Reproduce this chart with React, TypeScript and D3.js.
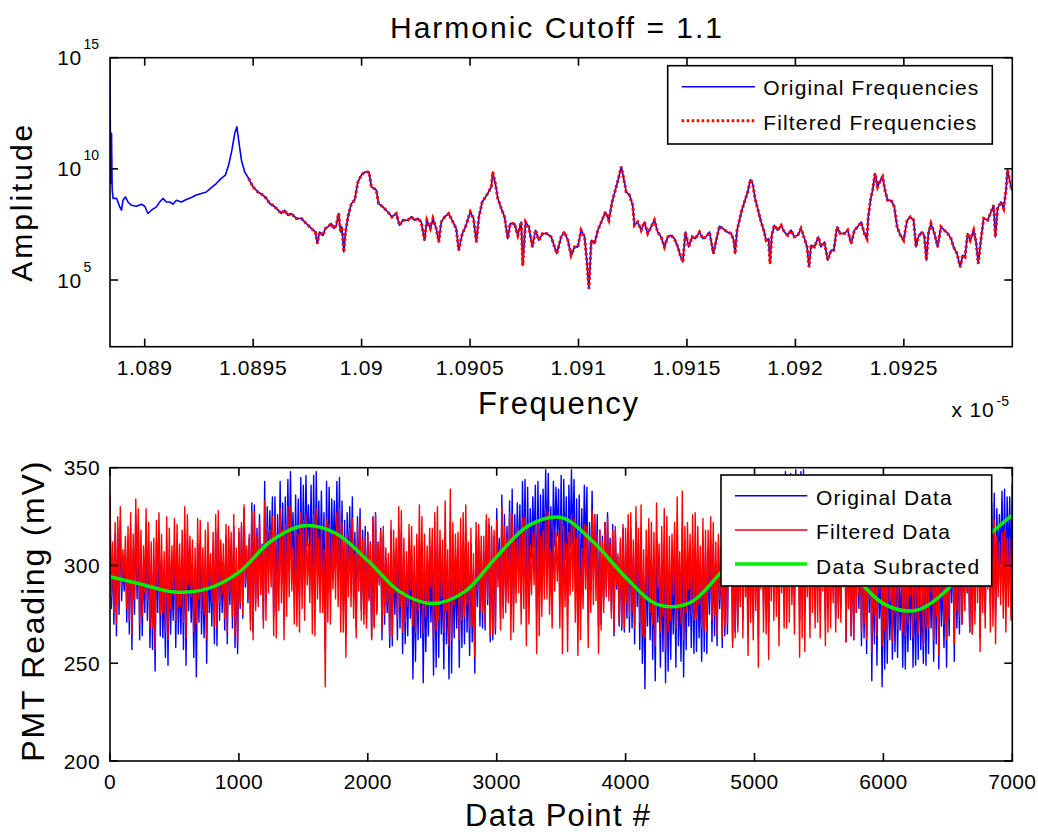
import React from "react";
import * as d3 from "d3";

// ---------------- data: top panel (spectrum) ----------------
const TITLE = "Harmonic Cutoff = 1.1";
const FREQ_TICKS = [1.089, 1.0895, 1.09, 1.0905, 1.091, 1.0915, 1.092, 1.0925];
const FREQ_TICK_LABELS = ["1.089", "1.0895", "1.09", "1.0905", "1.091", "1.0915", "1.092", "1.0925"];
const AMP_TICK_EXPONENTS = [5, 10, 15];
const FILTER_START_FREQ = 1.089479; // filtered spectrum shown from here on (x 1e-5)
// [frequency (x 1e-5), log10(amplitude)]
const ORIGINAL_SPECTRUM: [number, number][] = [
  [1.088839,15.0],[1.088841,12.42],[1.088844,9.34],[1.088847,11.6],[1.08885,9.1],[1.088854,8.67],[1.08887,8.68],[1.088885,8.29],[1.088893,8.14],[1.0889,8.59],
  [1.088911,8.74],[1.088923,8.51],[1.088939,8.36],[1.088962,8.32],[1.088985,8.41],[1.089,8.32],[1.089015,7.99],[1.089031,8.14],[1.089054,8.29],[1.089069,8.51],
  [1.089084,8.67],[1.0891,8.51],[1.089115,8.51],[1.08913,8.41],[1.089146,8.59],[1.089169,8.51],[1.089192,8.62],[1.089215,8.71],[1.089238,8.82],[1.089261,8.89],
  [1.089284,8.96],[1.089307,9.16],[1.08933,9.34],[1.089353,9.57],[1.089372,9.72],[1.089387,10.17],[1.089402,10.84],[1.089415,11.59],[1.089425,11.89],[1.089433,11.29],
  [1.089446,10.39],[1.089461,9.86],[1.089479,9.57],[1.089499,9.19],[1.089522,8.96],[1.089545,8.82],[1.089561,8.67],[1.089576,8.44],[1.089591,8.36],[1.089607,8.22],
  [1.08963,7.99],[1.089645,8.14],[1.08966,7.91],[1.089676,7.99],[1.089699,7.77],[1.089722,7.77],[1.089745,7.54],[1.089768,7.32],[1.089787,7.16],[1.089796,6.64],
  [1.089806,7.16],[1.089822,7.01],[1.089833,7.32],[1.089845,7.39],[1.08986,7.54],[1.089872,7.32],[1.089883,7.46],[1.089894,7.99],[1.089903,7.16],[1.089909,7.39],
  [1.089918,6.26],[1.089925,7.09],[1.089937,7.84],[1.089953,8.44],[1.089968,8.59],[1.089983,9.41],[1.089999,9.72],[1.090014,9.86],[1.090034,9.86],[1.090045,9.19],
  [1.090057,9.12],[1.090068,9.04],[1.090078,8.44],[1.090098,8.29],[1.090121,8.06],[1.09014,7.84],[1.09016,7.99],[1.090175,7.46],[1.09019,7.69],[1.090213,7.69],
  [1.090229,7.84],[1.090244,7.69],[1.090259,7.77],[1.090275,7.61],[1.09029,6.79],[1.090301,7.69],[1.090317,7.32],[1.090329,7.77],[1.090344,7.32],[1.090356,6.71],
  [1.090367,7.61],[1.090383,7.84],[1.090402,7.99],[1.090421,7.61],[1.090436,7.32],[1.090448,6.34],[1.090464,7.09],[1.090479,7.39],[1.090501,8.06],[1.090516,7.77],
  [1.090529,6.71],[1.090541,7.84],[1.090556,8.51],[1.090577,8.82],[1.090598,9.19],[1.090605,9.86],[1.090618,9.27],[1.090628,8.67],[1.090644,8.22],[1.090659,7.84],
  [1.090674,6.86],[1.090685,7.54],[1.090705,7.54],[1.09072,7.01],[1.090736,7.61],[1.090743,5.66],[1.090756,7.61],[1.090771,7.39],[1.090787,6.49],[1.090802,7.24],
  [1.090817,6.79],[1.090835,7.09],[1.090854,7.09],[1.090874,6.94],[1.0909,6.19],[1.09092,6.94],[1.090935,7.16],[1.090951,6.79],[1.090966,6.11],[1.090982,6.49],
  [1.090997,6.49],[1.091012,7.24],[1.091028,6.94],[1.091038,5.89],[1.091048,4.61],[1.091059,6.79],[1.091074,6.64],[1.091089,7.24],[1.091105,7.61],[1.091124,8.06],
  [1.09114,7.69],[1.091155,8.51],[1.091174,9.19],[1.091186,9.64],[1.091197,10.09],[1.091207,9.64],[1.09122,8.96],[1.091235,8.82],[1.09125,8.36],[1.091258,7.46],
  [1.091273,7.61],[1.091289,7.24],[1.091304,7.61],[1.091319,7.09],[1.091335,7.39],[1.09135,7.69],[1.091365,7.16],[1.091381,6.94],[1.091396,6.49],[1.091412,6.94],
  [1.091427,7.01],[1.091442,6.86],[1.091458,6.49],[1.091469,6.11],[1.091481,5.81],[1.091493,7.16],[1.091508,6.49],[1.091524,6.94],[1.091539,6.86],[1.091558,7.16],
  [1.091573,6.86],[1.091588,6.94],[1.091604,7.16],[1.091622,6.19],[1.091635,6.79],[1.09165,7.42],[1.091665,7.32],[1.091685,7.16],[1.091704,7.09],[1.091716,6.79],
  [1.091722,6.19],[1.091731,7.24],[1.091742,7.69],[1.091753,8.14],[1.091765,8.51],[1.09178,8.96],[1.091793,9.52],[1.091803,9.34],[1.091814,8.67],[1.09183,8.06],
  [1.091842,7.61],[1.091854,7.24],[1.091865,6.79],[1.091876,6.86],[1.091883,5.74],[1.091891,7.01],[1.091903,7.46],[1.091918,7.24],[1.091934,7.46],[1.091949,7.16],
  [1.091965,7.01],[1.09198,7.24],[1.091995,6.94],[1.092011,7.01],[1.092026,7.32],[1.092042,6.86],[1.092054,6.49],[1.092063,5.59],[1.092072,6.56],[1.092088,6.49],
  [1.092106,6.94],[1.092118,6.49],[1.092134,6.71],[1.092149,5.89],[1.092165,6.34],[1.092177,6.34],[1.092192,7.39],[1.092207,7.09],[1.092226,7.09],[1.092241,7.24],
  [1.092257,6.64],[1.092272,7.24],[1.092287,7.39],[1.092303,7.61],[1.092318,7.09],[1.09233,6.86],[1.092336,7.84],[1.092346,8.59],[1.092356,9.04],[1.092367,9.79],
  [1.092379,9.19],[1.092392,9.49],[1.092402,9.64],[1.092413,9.04],[1.092425,8.59],[1.092441,8.59],[1.092456,8.29],[1.092469,7.39],[1.092484,7.01],[1.092499,6.79],
  [1.092515,7.69],[1.09253,7.84],[1.092545,7.69],[1.092556,6.49],[1.092567,6.94],[1.092582,7.16],[1.092594,7.01],[1.092604,5.89],[1.092613,7.09],[1.092625,7.54],
  [1.092641,7.09],[1.092656,6.49],[1.092671,7.39],[1.092687,7.24],[1.092702,7.09],[1.092718,6.86],[1.092729,6.49],[1.092745,6.19],[1.09276,5.59],[1.092771,6.11],
  [1.092782,6.04],[1.092794,7.09],[1.092806,6.79],[1.092822,7.24],[1.092833,6.71],[1.092843,5.74],[1.092856,6.86],[1.092868,7.77],[1.092886,7.69],[1.092902,8.06],
  [1.092914,8.36],[1.092922,6.94],[1.092932,8.22],[1.092948,8.51],[1.09296,8.22],[1.092971,9.04],[1.092978,9.94],[1.092988,9.49],[1.092997,9.04]
];

// ---------------- data: bottom panel (time series) ----------------
const SAMPLE_STEP = 10; // one stored value every 10 data points
const ORIGINAL_DATA = [
  330,278,306,270, 316,264,319,275, 323,282,301,287, 308,271,313,265, 319,257,308,275, 326,283,321,262, 308,264,300,276, 319,272,312,258, 301,257,303,246, 312,276,316,264,
  303,263,294,253, 312,249,306,265, 297,272,311,258, 307,265,297,265, 304,257,316,249, 313,277,302,271, 300,253,296,243, 311,271,311,265, 297,263,306,250, 310,276,294,269,
  308,260,317,259, 319,272,304,276, 302,267,315,260, 314,280,311,268, 320,258,303,255, 317,278,320,273, 329,289,308,281, 314,271,332,266, 331,281,319,283, 326,289,311,272,
  343,282,330,296, 328,299,335,274, 335,277,326,291, 343,295,332,276, 335,288,344,298, 348,305,327,288, 336,287,334,284, 345,296,341,292, 346,310,331,301, 341,285,346,284,
  348,302,333,295, 338,295,327,257, 343,290,340,286, 334,304,333,299, 343,295,345,282, 333,277,323,264, 327,295,330,290, 335,284,317,268, 325,292,329,277, 318,275,320,273,
  317,283,312,263, 325,269,327,276, 312,291,319,262, 315,270,304,276, 301,258,318,259, 307,275,303,262, 319,268,317,255, 303,260,296,264, 306,273,305,242, 295,251,301,262,
  313,263,307,240, 298,256,292,264, 301,271,301,244, 308,248,311,253, 299,265,294,247, 316,260,291,242, 322,245,305,263, 299,268,300,248, 310,258,313,260, 317,266,298,254,
  311,261,298,245, 314,279,313,269, 307,268,307,267, 323,280,321,261, 317,262,315,265, 329,295,314,273, 336,279,326,282, 320,287,333,275, 339,279,326,294, 332,299,331,283,
  343,297,344,278, 340,289,329,304, 335,309,341,276, 343,285,336,295, 339,304,349,304, 347,298,330,291, 343,310,340,315, 339,291,346,279, 344,303,335,280, 341,309,349,311,
  344,291,334,274, 336,282,329,298, 341,308,340,272, 322,286,338,294, 326,292,326,269, 318,270,315,282, 322,287,327,288, 314,276,321,264, 318,288,304,269, 312,267,319,266,
  311,273,318,266, 319,268,305,260, 322,279,311,257, 317,250,294,237, 304,269,310,262, 304,252,299,241, 314,271,293,248, 302,256,311,240, 305,246,295,252, 296,265,302,248,
  316,259,288,251, 319,243,301,257, 303,269,297,258, 309,255,310,256, 303,263,293,251, 313,256,307,255, 307,275,314,261, 311,264,301,259, 311,278,304,258, 315,264,318,265,
  328,293,322,261, 321,266,317,269, 325,282,331,273, 326,294,316,264, 331,281,327,272, 333,292,330,263, 337,303,337,281, 331,280,324,271, 339,301,345,291, 336,293,337,278,
  344,308,333,290, 348,290,346,293, 347,302,329,285, 349,310,340,273, 348,283,349,276, 335,301,330,280, 337,293,334,285, 333,288,342,277, 333,301,324,273, 336,280,335,282,
  323,288,323,273, 331,280,315,278, 325,296,334,261, 320,278,314,264, 315,262,319,276, 315,278,316,259, 310,263,304,255, 314,276,311,241, 300,260,311,249, 305,273,297,238,
  298,247,300,250, 301,262,289,252, 296,256,305,253, 300,267,294,248, 295,247,290,256, 297,262,305,248, 293,249,295,252, 300,257,284,250, 299,249,303,255, 302,268,295,251,
  302,260,312,247, 306,269,296,258, 300,248,305,264, 307,281,315,251, 311,268,304,265, 318,270,317,277, 322,286,308,266, 315,265,321,277, 328,288,334,263, 324,283,318,275,
  334,302,330,280, 332,283,337,274, 329,298,326,301, 338,294,339,287, 335,300,335,293,
  342
];
const FILTERED_DATA = [
  336,284,312,276, 322,270,325,281, 330,289,308,294, 315,278,320,272, 327,265,316,283, 334,291,329,270, 318,274,310,286, 329,282,322,268, 312,268,314,257, 323,287,327,275,
  316,276,307,266, 325,262,319,278, 310,285,324,272, 321,279,311,279, 318,271,330,263, 326,290,315,284, 313,266,309,270, 324,283,323,277, 309,275,318,262, 322,288,306,281,
  317,269,326,268, 328,281,313,285, 311,273,321,266, 320,286,317,274, 326,264,309,261, 319,280,322,275, 331,291,310,283, 316,267,328,262, 327,277,315,279, 322,285,307,268,
  333,272,320,286, 318,289,325,264, 325,263,312,277, 329,281,318,262, 321,274,330,284, 330,287,309,270, 318,269,316,266, 327,278,323,272, 326,290,311,281, 321,265,326,264,
  329,283,314,276, 319,276,308,238, 324,271,321,270, 318,288,317,283, 327,279,329,266, 322,266,312,253, 316,284,319,279, 324,273,306,263, 320,287,324,272, 313,270,315,268,
  316,282,311,262, 324,268,326,275, 311,290,318,267, 320,275,309,281, 306,263,323,264, 318,286,314,273, 330,279,328,266, 314,271,307,279, 321,288,320,269, 310,266,316,277,
  331,281,325,265, 316,274,310,282, 319,289,319,263, 327,267,330,272, 318,284,313,266, 333,277,308,259, 339,262,322,280, 316,285,317,262, 324,272,327,274, 331,280,312,268,
  319,269,306,253, 322,287,321,277, 315,276,315,270, 326,283,324,264, 320,265,318,268, 323,289,308,267, 330,273,320,276, 314,281,327,262, 326,266,313,281, 319,286,318,270,
  324,278,325,259, 321,270,310,285, 316,290,322,255, 322,264,315,274, 318,283,329,283, 327,275,307,268, 320,287,317,292, 316,268,323,255, 320,279,311,256, 317,285,326,287,
  324,271,314,254, 316,262,309,278, 321,288,320,258, 313,276,328,280, 326,282,316,255, 318,267,312,276, 322,284,324,282, 311,273,318,266, 320,290,306,271, 314,269,321,268,
  319,281,326,274, 327,276,313,268, 330,287,319,271, 331,264,308,263, 318,283,324,276, 322,270,317,259, 332,289,311,266, 320,274,329,257, 325,266,315,272, 316,285,322,268,
  335,278,307,270, 338,262,320,276, 322,288,316,275, 326,272,327,273, 320,280,310,268, 324,267,318,266, 318,286,325,272, 322,275,312,264, 316,283,309,263, 320,269,323,270,
  325,290,319,258, 318,263,314,266, 322,279,328,263, 316,284,306,254, 321,271,317,262, 318,277,315,248, 322,288,322,266, 316,265,309,252, 320,282,326,272, 317,274,318,259,
  326,286,311,268, 318,268,324,271, 324,280,307,265, 318,290,320,253, 321,263,329,256, 318,284,313,263, 320,276,317,268, 316,271,325,263, 319,287,310,259, 322,266,321,268,
  316,281,316,266, 324,273,308,271, 318,289,327,261, 320,278,314,264, 315,262,319,276, 322,285,323,266, 317,270,311,262, 321,283,318,256, 315,275,326,264, 320,288,312,259,
  318,267,320,262, 321,282,309,261, 316,276,325,268, 322,289,316,266, 317,264,312,270, 320,285,328,263, 316,272,318,265, 323,280,307,259, 318,268,322,268, 321,287,314,262,
  316,274,326,254, 320,283,310,270, 314,262,319,273, 316,290,324,260, 320,277,313,274, 318,270,317,277, 322,286,308,266, 315,265,321,270, 321,281,327,256, 317,276,311,268,
  320,288,316,266, 318,269,323,260, 315,284,312,280, 317,273,318,266, 314,279,314,272,
  318
];
const SUBTRACTED_STEP = 250;
const DATA_SUBTRACTED = [
  294.3, 290.3, 286.4, 288.0, 296.5, 312.5, 320.3, 316.5, 302.5, 286.5, 280.5, 286.5, 304.5, 320.5, 324.5,
  312.0, 294.0, 280.0, 281.0, 297.0, 313.0, 322.0, 316.0, 297.0, 280.5, 277.0, 288.0, 311.0, 325.8
];
const POINT_TICKS = [0, 1000, 2000, 3000, 4000, 5000, 6000, 7000];
const PMT_TICKS = [200, 250, 300, 350];

// ---------------- layout ----------------
const W = 1038, H = 832;
const TOP = { left: 110, right: 1012.3, top: 57.7, bottom: 346.7 };
const BOT = { left: 110, right: 1012.3, top: 467.7, bottom: 761 };
const FONT = "'Liberation Sans', Arial, Helvetica, sans-serif";
const TICK = 8;

export default function App() {
  const xTop = d3.scaleLinear().domain([1.08884, 1.093]).range([TOP.left, TOP.right]);
  const yTop = d3.scaleLog().domain([1e2, 1e15]).range([TOP.bottom, TOP.top]);
  const xBot = d3.scaleLinear().domain([0, 7000]).range([BOT.left, BOT.right]);
  const yBot = d3.scaleLinear().domain([200, 350]).range([BOT.bottom, BOT.top]);

  const spec = ORIGINAL_SPECTRUM.map(([f, e]) => ({ f, a: Math.pow(10, e) }));
  const filtered = spec.filter((p) => p.f >= FILTER_START_FREQ);
  const specLine = d3.line<{ f: number; a: number }>().x((d) => xTop(d.f)).y((d) => yTop(d.a));

  const seriesLine = d3.line<number>().x((_, i) => xBot(i * SAMPLE_STEP)).y((d) => yBot(d));
  const greenLine = d3
    .line<number>()
    .x((_, i) => xBot(i * SUBTRACTED_STEP))
    .y((d) => yBot(d))
    .curve(d3.curveCatmullRom);

  const axisStroke = { stroke: "#000", strokeWidth: 1.6, fill: "none" };

  return (
    <svg
      width={W}
      height={H}
      style={{ position: "absolute", left: 0, top: 0, background: "#fff" }}
      fontFamily={FONT}
    >
      <defs>
        <clipPath id="clipTop">
          <rect x={TOP.left} y={TOP.top} width={TOP.right - TOP.left} height={TOP.bottom - TOP.top} />
        </clipPath>
        <clipPath id="clipBot">
          <rect x={BOT.left} y={BOT.top} width={BOT.right - BOT.left} height={BOT.bottom - BOT.top} />
        </clipPath>
      </defs>
      <rect x={0} y={0} width={W} height={H} fill="#fff" />

      {/* title */}
      <text x={556} y={38} fontSize={30} textAnchor="middle" textLength={332} lengthAdjust="spacing">
        {TITLE}
      </text>

      {/* ---------- top panel ---------- */}
      <g clipPath="url(#clipTop)">
        <path d={specLine(spec) || ""} fill="none" stroke="#0000ff" strokeWidth={1.6} strokeLinejoin="round" />
        <path
          d={specLine(filtered) || ""}
          fill="none"
          stroke="#ff0000"
          strokeWidth={3}
          strokeDasharray="2.5 2.5"
        />
      </g>
      <rect x={TOP.left} y={TOP.top} width={TOP.right - TOP.left} height={TOP.bottom - TOP.top} {...axisStroke} />
      {FREQ_TICKS.map((t, i) => (
        <g key={"fx" + i}>
          <line x1={xTop(t)} x2={xTop(t)} y1={TOP.bottom} y2={TOP.bottom - TICK} stroke="#000" strokeWidth={1.6} />
          <line x1={xTop(t)} x2={xTop(t)} y1={TOP.top} y2={TOP.top + TICK} stroke="#000" strokeWidth={1.6} />
          <text x={xTop(t)} y={375} fontSize={21} textAnchor="middle" letterSpacing={0.7}>
            {FREQ_TICK_LABELS[i]}
          </text>
        </g>
      ))}
      {AMP_TICK_EXPONENTS.map((e) => {
        const y = yTop(Math.pow(10, e));
        return (
          <g key={"ay" + e}>
            <line x1={TOP.left} x2={TOP.left + TICK} y1={y} y2={y} stroke="#000" strokeWidth={1.6} />
            <line x1={TOP.right} x2={TOP.right - TICK} y1={y} y2={y} stroke="#000" strokeWidth={1.6} />
            <text x={82} y={y + 7.5} fontSize={21} textAnchor="end" letterSpacing={0.7}>10</text>
            <text x={83.5} y={y - 8.5} fontSize={14}>{String(e)}</text>
          </g>
        );
      })}
      <text x={951.5} y={417} fontSize={21} letterSpacing={0.8}>x 10</text>
      <text x={996.5} y={406} fontSize={14}>-5</text>
      <text x={558} y={414} fontSize={31} textAnchor="middle" textLength={160} lengthAdjust="spacing">
        Frequency
      </text>
      <text
        transform={`translate(31.5, ${(TOP.top + TOP.bottom) / 2 + 1}) rotate(-90)`}
        fontSize={30}
        textAnchor="middle"
        textLength={157}
        lengthAdjust="spacing"
      >
        Amplitude
      </text>

      {/* top legend */}
      <rect x={667.7} y={65.7} width={324.6} height={78.3} fill="#fff" stroke="#000" strokeWidth={1.6} />
      <line x1={681.7} x2={755} y1={86.7} y2={86.7} stroke="#0000ff" strokeWidth={1.6} />
      <line x1={681.7} x2={755} y1={120.7} y2={120.7} stroke="#ff0000" strokeWidth={3} strokeDasharray="2.5 2.5" />
      <text x={763.3} y={95} fontSize={21} textLength={215} lengthAdjust="spacing">Original Frequencies</text>
      <text x={763.3} y={129.5} fontSize={21} textLength={213} lengthAdjust="spacing">Filtered Frequencies</text>

      {/* ---------- bottom panel ---------- */}
      <g clipPath="url(#clipBot)">
        <path d={seriesLine(ORIGINAL_DATA) || ""} fill="none" stroke="#0000ff" strokeWidth={1.4} strokeLinejoin="round" />
        <path d={seriesLine(FILTERED_DATA) || ""} fill="none" stroke="#ff0000" strokeWidth={1.4} strokeLinejoin="round" />
        <path d={greenLine(DATA_SUBTRACTED) || ""} fill="none" stroke="#00f000" strokeWidth={3.5} />
      </g>
      <rect x={BOT.left} y={BOT.top} width={BOT.right - BOT.left} height={BOT.bottom - BOT.top} {...axisStroke} />
      {POINT_TICKS.map((t) => (
        <g key={"px" + t}>
          <line x1={xBot(t)} x2={xBot(t)} y1={BOT.bottom} y2={BOT.bottom - TICK} stroke="#000" strokeWidth={1.6} />
          <line x1={xBot(t)} x2={xBot(t)} y1={BOT.top} y2={BOT.top + TICK} stroke="#000" strokeWidth={1.6} />
          <text x={xBot(t)} y={789} fontSize={21} textAnchor="middle" letterSpacing={0.4}>
            {String(t)}
          </text>
        </g>
      ))}
      {PMT_TICKS.map((t) => (
        <g key={"py" + t}>
          <line x1={BOT.left} x2={BOT.left + TICK} y1={yBot(t)} y2={yBot(t)} stroke="#000" strokeWidth={1.6} />
          <line x1={BOT.right} x2={BOT.right - TICK} y1={yBot(t)} y2={yBot(t)} stroke="#000" strokeWidth={1.6} />
          <text x={100} y={yBot(t) + 7.5} fontSize={21} textAnchor="end" letterSpacing={0.4}>
            {String(t)}
          </text>
        </g>
      ))}
      <text x={557.5} y={826} fontSize={31} textAnchor="middle" textLength={185} lengthAdjust="spacing">
        Data Point #
      </text>
      <text
        transform={`translate(43.5, ${611.7}) rotate(-90)`}
        fontSize={32}
        textAnchor="middle"
        textLength={300}
        lengthAdjust="spacing"
      >
        PMT Reading (mV)
      </text>

      {/* bottom legend */}
      <rect x={721} y={475} width={270.7} height={111} fill="#fff" stroke="#000" strokeWidth={1.6} />
      <line x1={735} x2={807.3} y1={495.7} y2={495.7} stroke="#0000ff" strokeWidth={1.6} />
      <line x1={735} x2={807.3} y1={530} y2={530} stroke="#ff0000" strokeWidth={1.6} />
      <line x1={735} x2={807.3} y1={564} y2={564} stroke="#00f000" strokeWidth={3.5} />
      <text x={816} y={504.5} fontSize={21} textLength={135.7} lengthAdjust="spacing">Original Data</text>
      <text x={816} y={539} fontSize={21} textLength={134} lengthAdjust="spacing">Filtered Data</text>
      <text x={816} y={573.5} fontSize={21} textLength={163.3} lengthAdjust="spacing">Data Subracted</text>
    </svg>
  );
}
